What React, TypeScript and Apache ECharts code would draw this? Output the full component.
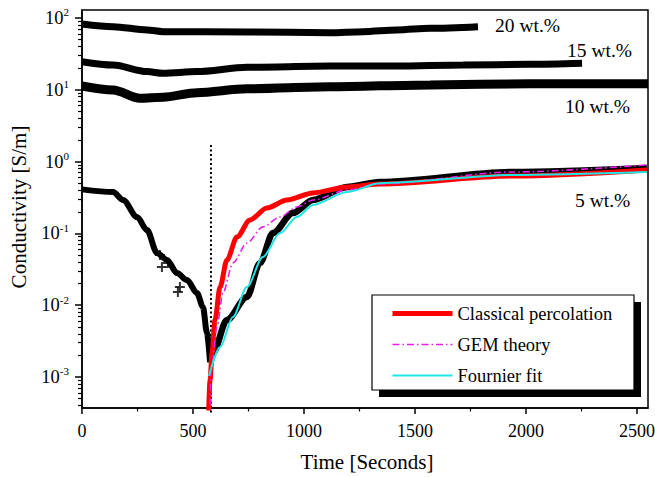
import React, { useEffect, useRef } from 'react';
import * as echarts from 'echarts';

const FONT = '"Liberation Serif", "Times New Roman", Times, serif';

// ---- data (time in seconds, conductivity in S/m) ----
const t20 = [0, 140, 293, 365, 743, 1117, 1266, 1419, 1568, 1784];
const v20 = [82.5, 75.7, 68.1, 64.5, 63.8, 62.4, 64.5, 68.1, 71.9, 75.7];

const t15 = [0, 140, 293, 365, 518, 743, 1117, 1419, 1716, 2018, 2253];
const v15 = [24.6, 22.1, 17.9, 17.0, 17.9, 20.6, 21.4, 21.4, 22.1, 22.6, 23.4];

const t10 = [0, 140, 261, 365, 518, 743, 1117, 1568, 2018, 2550];
const v10 = [11.3, 9.94, 7.62, 7.87, 9.12, 10.3, 11.0, 11.7, 12.1, 12.1];

const t5pre = [0, 140, 185, 248, 293, 338, 383, 428, 473, 518, 545, 563, 577];
const v5pre = [0.41, 0.377, 0.292, 0.169, 0.111, 0.0533, 0.0427, 0.028, 0.0224, 0.0148, 0.00944, 0.0041, 0.0016];

const t5post = [577, 590, 653, 743, 802, 860, 950, 1041, 1194, 1342, 1942, 2545];
const v5post = [0.0016, 0.00216, 0.00622, 0.013, 0.0387, 0.101, 0.192, 0.292, 0.443, 0.52, 0.716, 0.815];

const t5out = [351, 360, 387, 432, 441];
const v5out = [0.05, 0.034, 0.0387, 0.0153, 0.0179];

const tPerc = [566, 577, 586, 599, 622, 653, 698, 757, 833, 924, 1041, 1194, 1342, 1942, 2545];
const vPerc = [1e-4, 9.1e-4, 0.00216, 0.00622, 0.0179, 0.0427, 0.0891, 0.154, 0.226, 0.292, 0.366, 0.443, 0.488, 0.63, 0.764];

const tGem = [574, 581, 608, 635, 680, 743, 815, 892, 968, 1041, 1194, 1342, 1942, 2545];
const vGem = [1e-4, 0.00114, 0.00497, 0.0148, 0.0387, 0.0735, 0.123, 0.169, 0.233, 0.292, 0.4, 0.488, 0.716, 0.897];

const tFour = [572, 622, 680, 743, 815, 892, 968, 1041, 1194, 1342, 1942, 2545];
const vFour = [0.00103, 0.00262, 0.00686, 0.0179, 0.0469, 0.101, 0.169, 0.249, 0.377, 0.5, 0.65, 0.716];

const tThreshold = [581, 581];
const vThreshold = [1.7, 3e-4];

const xTicks = [0, 500, 1000, 1500, 2000, 2500];
const xMinorTicks = [250, 750, 1250, 1750, 2250];
const yTickExps = [-3, -2, -1, 0, 1, 2];
const legendNames = ['Classical percolation', 'GEM theory', 'Fournier fit'];
const bandLabels = ['20 wt.%', '15 wt.%', '10 wt.%', '5 wt.%'];

const X_MIN = 0;
const X_MAX = 2550;
const Y_MIN = -3.432; // log10(S/m)
const Y_MAX = 2.111;

const pts = (t: number[], v: number[]) => t.map((x, i) => [x, Math.log10(v[i])]);

const yMinor: number[] = [];
for (let e = -4; e <= 2; e++) {
  for (let k = 2; k <= 9; k++) yMinor.push(e + Math.log10(k));
}

const NOFILL = { color: 'rgba(0,0,0,0)', borderWidth: 0, opacity: 0 };
const RED = '#ff0000';
const MAGENTA = '#e81ee8';
const CYAN = '#1ee6e6';

export default function App() {
  const ref = useRef<HTMLDivElement>(null);
  useEffect(() => {
    if (!ref.current) return;
    const chart = echarts.init(ref.current, undefined, { renderer: 'svg' });
    const black = (name: string, t: number[], v: number[], w: number) => ({
      name,
      type: 'line',
      data: pts(t, v),
      symbol: 'none',
      smooth: 0.3,
      smoothMonotone: 'x',
      lineStyle: { color: '#000', width: w },
      z: 2,
      silent: true,
    });
    const txt = (text: string, x: number, y: number, size: number, align = 'left', rotation = 0) => ({
      type: 'text',
      x,
      y,
      rotation,
      z: 20,
      style: {
        text,
        fill: '#000',
        font: `${size}px ${FONT}`,
        align,
        verticalAlign: 'middle',
        textAlign: align,
        textVerticalAlign: 'middle',
      },
    });
    chart.setOption({
      animation: false,
      backgroundColor: '#fff',
      grid: { left: 82, right: 7, top: 10, bottom: 69, show: true, borderColor: '#000', borderWidth: 1.5, containLabel: false, outerBoundsMode: 'none' },
      xAxis: [
        {
          type: 'value', min: X_MIN, max: X_MAX,
          axisLine: { onZero: false, lineStyle: { color: '#000', width: 1.5 } },
          axisTick: { customValues: xTicks, length: 6, lineStyle: { color: '#000', width: 1.5 } },
          axisLabel: { customValues: xTicks, color: '#000', fontFamily: FONT, fontSize: 18, margin: 14, formatter: (v: number) => String(v) },
          splitLine: { show: false },
        },
        {
          type: 'value', min: X_MIN, max: X_MAX, position: 'bottom',
          axisLine: { show: false, onZero: false },
          axisTick: { customValues: xMinorTicks, length: 3.5, lineStyle: { color: '#000', width: 1.2 } },
          axisLabel: { show: false },
          splitLine: { show: false },
        },
      ],
      yAxis: [
        {
          type: 'value', min: Y_MIN, max: Y_MAX,
          axisLine: { show: true, onZero: false, lineStyle: { color: '#000', width: 1.5 } },
          axisTick: { show: true, customValues: yTickExps, length: 7, lineStyle: { color: '#000', width: 1.5 } },
          axisLabel: {
            customValues: yTickExps,
            margin: 13,
            formatter: (v: number) => `{b|10}{s|${Math.round(v)}}`,
            rich: {
              b: { fontFamily: FONT, fontSize: 18.5, color: '#000', lineHeight: 22 },
              s: { fontFamily: FONT, fontSize: 11, color: '#000', lineHeight: 22, verticalAlign: 'top' },
            },
          },
          splitLine: { show: false },
        },
        {
          type: 'value', min: Y_MIN, max: Y_MAX, position: 'left',
          axisLine: { show: false, onZero: false },
          axisTick: { show: true, customValues: yMinor, length: 4, lineStyle: { color: '#000', width: 1.2 } },
          axisLabel: { show: false },
          splitLine: { show: false },
        },
      ],
      legend: {
        data: [
          { name: legendNames[0], lineStyle: { width: 5, color: RED } },
          { name: legendNames[1], lineStyle: { width: 1.6, color: MAGENTA, type: [7, 3, 1.5, 3] } },
          { name: legendNames[2], lineStyle: { width: 2, color: CYAN } },
        ],
        orient: 'vertical',
        left: 390,
        top: 304,
        padding: 0,
        itemWidth: 60,
        itemHeight: 14,
        itemGap: 12,
        selectedMode: false,
        z: 30,
        itemStyle: { opacity: 0, borderWidth: 0, color: 'rgba(0,0,0,0)' },
        textStyle: { fontFamily: FONT, fontSize: 18.5, color: '#000' },
      },
      graphic: [
        { type: 'rect', shape: { x: 379, y: 302, width: 262, height: 95 }, style: { fill: '#000' }, z: 10 },
        { type: 'rect', shape: { x: 372, y: 295, width: 262, height: 95 }, style: { fill: '#fff', stroke: '#000', lineWidth: 1.2 }, z: 11 },
        txt(bandLabels[0], 495, 25, 19.5),
        txt(bandLabels[1], 567, 50, 19.5),
        txt(bandLabels[2], 565, 106, 19.5),
        txt(bandLabels[3], 575, 200, 19.5),
        txt('Time [Seconds]', 367, 462, 21, 'center'),
        txt('Conductivity [S/m]', 19, 207, 21, 'center', Math.PI / 2),
      ],
      series: [
        {
          name: 'threshold', type: 'line', data: pts(tThreshold, vThreshold), symbol: 'none', clip: false, silent: true,
          lineStyle: { color: '#000', width: 2, type: [2, 2.5] }, z: 1,
        },
        black('20 wt.%', t20, v20, 7),
        black('15 wt.%', t15, v15, 7),
        black('10 wt.%', t10, v10, 9),
        black('5 wt.% (before)', t5pre, v5pre, 6),
        black('5 wt.% (after)', t5post, v5post, 6.5),
        {
          name: '5 wt.% scatter', type: 'scatter', data: pts(t5out, v5out), silent: true,
          symbol: 'path://M4,0H6V4H10V6H6V10H4V6H0V4H4Z', symbolSize: 10,
          itemStyle: { color: '#000' }, z: 2,
        },
        {
          name: legendNames[0], type: 'line', data: pts(tPerc, vPerc), symbol: 'none', smooth: 0.3, smoothMonotone: 'x',
          lineStyle: { color: RED, width: 5 }, itemStyle: NOFILL, z: 3,
        },
        {
          name: legendNames[1], type: 'line', data: pts(tGem, vGem), symbol: 'none', smooth: 0.3, smoothMonotone: 'x',
          lineStyle: { color: MAGENTA, width: 1.6, type: [7, 3, 1.5, 3] }, itemStyle: NOFILL, z: 4,
        },
        {
          name: legendNames[2], type: 'line', data: pts(tFour, vFour), symbol: 'none', smooth: 0.3, smoothMonotone: 'x',
          lineStyle: { color: CYAN, width: 2 }, itemStyle: NOFILL, z: 5,
        },
      ],
    });
    return () => chart.dispose();
  }, []);
  return <div ref={ref} style={{ position: 'fixed', left: 0, top: 0, width: 655, height: 477, background: '#fff' }} />;
}
